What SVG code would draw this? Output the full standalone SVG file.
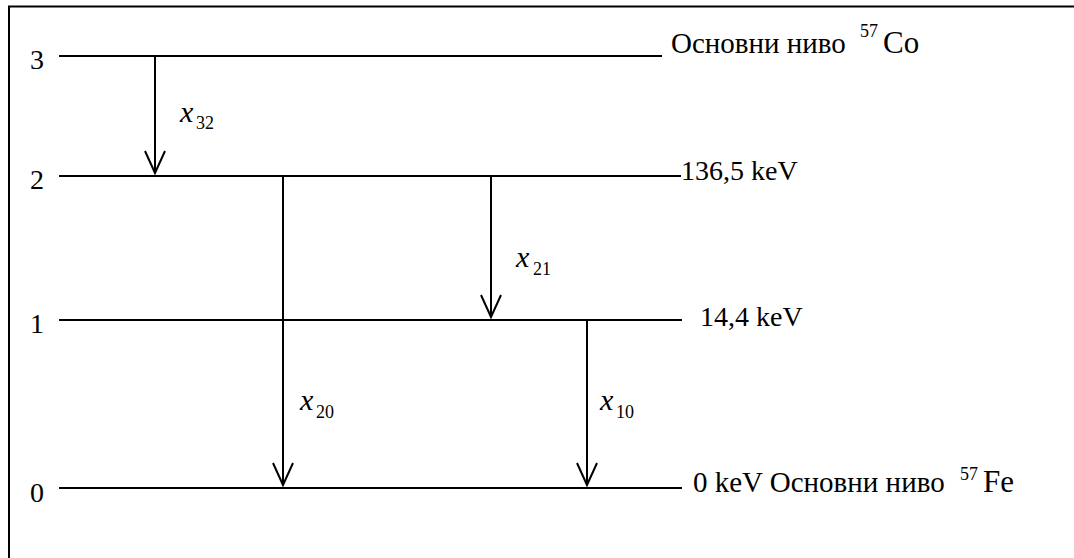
<svg xmlns="http://www.w3.org/2000/svg" width="1074" height="558" viewBox="0 0 1074 558">
<style>
.ln{stroke:#000;stroke-width:2;fill:none}
text{font-family:'Liberation Serif', serif;fill:#000}
.t{font-size:28px}
.c{font-size:29px}
.e{font-size:31px}
.v{font-size:30px;font-style:italic}
.s{font-size:18px}
</style>
<defs>
<marker id="ah" markerUnits="userSpaceOnUse" markerWidth="26" markerHeight="24" refX="23" refY="11" orient="auto" viewBox="0 0 26 24">
<path d="M1,1 L23,11 L1,21" fill="none" stroke="#000" stroke-width="2"/>
</marker>
</defs>
<rect x="0" y="0" width="1074" height="558" fill="#fff"/>
<rect x="9" y="6.5" width="1100" height="600" class="ln"/>
<g id="level3">
<line x1="59" y1="56" x2="662" y2="56" class="ln"/>
<text x="30" y="69" class="t">3</text>
<text x="671" y="53" class="c">Основни ниво</text>
<text x="860" y="37" class="s">57</text>
<text x="883" y="53" class="e">Co</text>
</g>
<g id="level2">
<line x1="59" y1="176" x2="681" y2="176" class="ln"/>
<text x="30" y="189" class="t">2</text>
<text x="681" y="180" class="t">136,5 keV</text>
</g>
<g id="level1">
<line x1="59" y1="320" x2="682" y2="320" class="ln"/>
<text x="30" y="333" class="t">1</text>
<text x="700" y="326" class="t">14,4 keV</text>
</g>
<g id="level0">
<line x1="59" y1="488" x2="682" y2="488" class="ln"/>
<text x="30" y="502" class="t">0</text>
<text x="693" y="492" class="c">0 keV Основни ниво</text>
<text x="960" y="480" class="s">57</text>
<text x="983" y="492" class="e">Fe</text>
</g>
<g id="connectors">
<line x1="155" y1="56" x2="155" y2="173" class="ln" marker-end="url(#ah)"/>
<line x1="283" y1="176" x2="283" y2="485" class="ln" marker-end="url(#ah)"/>
<line x1="491" y1="176" x2="491" y2="317" class="ln" marker-end="url(#ah)"/>
<line x1="587" y1="320" x2="587" y2="485" class="ln" marker-end="url(#ah)"/>
</g>
<g id="labels">
<text x="180" y="122" class="v">x</text><text x="196" y="129" class="s">32</text>
<text x="516" y="267" class="v">x</text><text x="533" y="275" class="s">21</text>
<text x="300" y="410" class="v">x</text><text x="316" y="418" class="s">20</text>
<text x="600" y="410" class="v">x</text><text x="616" y="418" class="s">10</text>
</g>
</svg>
